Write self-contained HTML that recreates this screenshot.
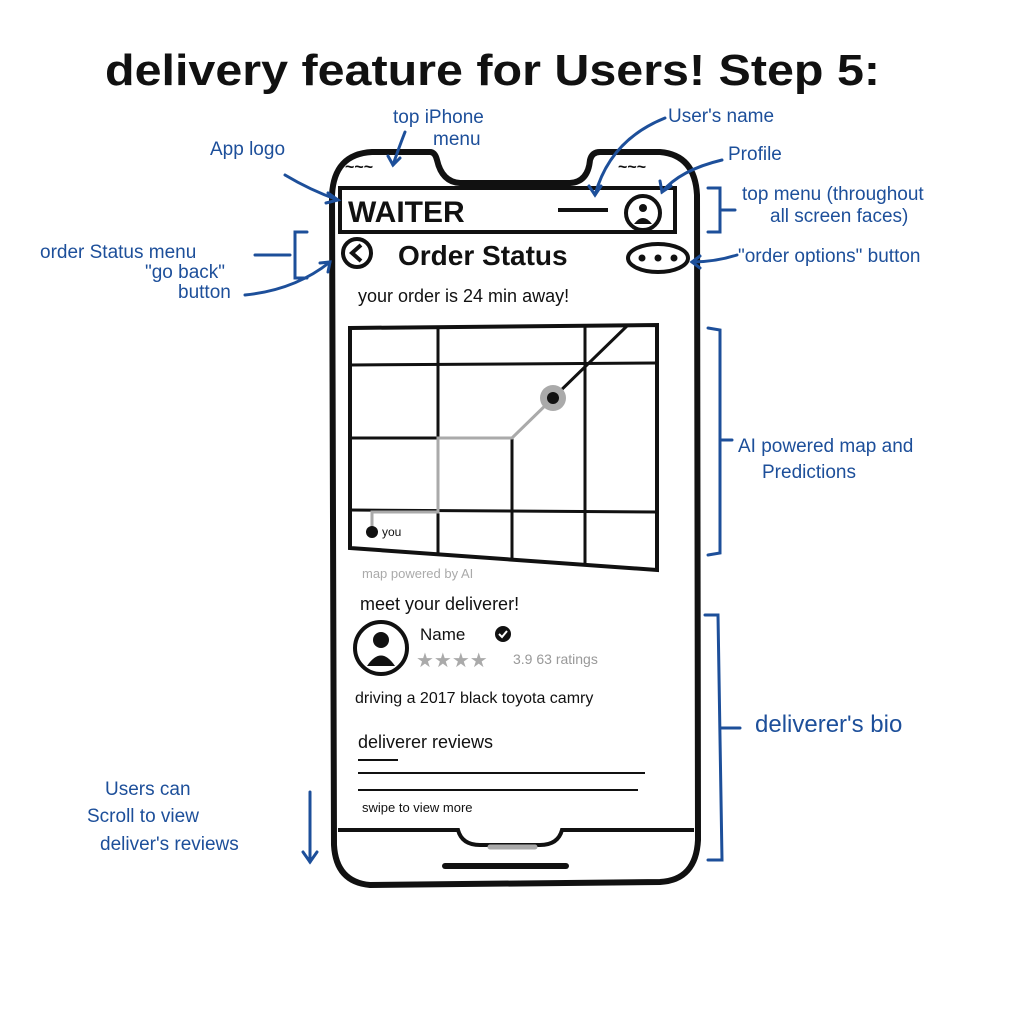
<!DOCTYPE html>
<html><head><meta charset="utf-8"><style>
html,body{margin:0;padding:0;background:#fff;width:1024px;height:1024px;overflow:hidden}
svg{display:block}
.b{font-family:"Liberation Sans",sans-serif;fill:#1d4f9a}
.k{font-family:"Liberation Sans",sans-serif;fill:#111}
</style></head><body>
<svg width="1024" height="1024" viewBox="0 0 1024 1024" xmlns="http://www.w3.org/2000/svg">
<rect width="1024" height="1024" fill="#fff"/>
<!-- title -->
<text x="105" y="85" class="k" font-size="44" font-weight="bold" textLength="775" lengthAdjust="spacingAndGlyphs">delivery feature for Users!  Step 5:</text>

<!-- phone -->
<path d="M372 152 L430 152 Q435 152 437 160 Q442 182 460 183 L570 183 Q588 182 590 160 Q592 152 600 152 L660 152 Q695 155 697 195 L698 840 Q696 880 660 882 L370 885 Q336 882 334 845 L332 195 Q334 154 372 152 Z" fill="none" stroke="#111" stroke-width="6"/>
<path d="M338 830 L458 830 Q462 845 480 845 L540 845 Q558 845 562 830 L694 830" fill="none" stroke="#111" stroke-width="4"/>
<line x1="445" y1="866" x2="566" y2="866" stroke="#111" stroke-width="6" stroke-linecap="round"/>
<line x1="490" y1="847" x2="535" y2="847" stroke="#aaa" stroke-width="5" stroke-linecap="round"/>
<text x="345" y="172" class="k" font-size="16" font-weight="bold">~~~</text>
<text x="618" y="172" class="k" font-size="16" font-weight="bold">~~~</text>

<!-- header -->
<rect x="340" y="188" width="335" height="44" fill="none" stroke="#111" stroke-width="4"/>
<text x="348" y="222" class="k" font-size="30" font-weight="bold">WAITER</text>
<line x1="558" y1="210" x2="608" y2="210" stroke="#111" stroke-width="4"/>
<circle cx="643" cy="213" r="17" fill="none" stroke="#111" stroke-width="4"/>
<circle cx="643" cy="208" r="4" fill="#111"/>
<path d="M634 224 Q643 212 652 224 Z" fill="#111"/>

<circle cx="357" cy="253" r="14" fill="none" stroke="#111" stroke-width="4"/>
<path d="M361 245 L352 253 L361 261" fill="none" stroke="#111" stroke-width="4"/>
<text x="398" y="265" class="k" font-size="28" font-weight="bold">Order Status</text>
<ellipse cx="658" cy="258" rx="30" ry="14" fill="none" stroke="#111" stroke-width="4"/>
<circle cx="642" cy="258" r="3.5" fill="#111"/><circle cx="658" cy="258" r="3.5" fill="#111"/><circle cx="674" cy="258" r="3.5" fill="#111"/>

<text x="358" y="302" class="k" font-size="18">your order is 24 min away!</text>

<!-- map -->
<path d="M350 328 L657 325 L657 570 L350 548 Z" fill="none" stroke="#111" stroke-width="4"/>
<g stroke="#111" stroke-width="3">
<line x1="438" y1="327" x2="438" y2="553"/>
<line x1="512" y1="438" x2="512" y2="560"/>
<line x1="585" y1="325" x2="585" y2="565"/>
<line x1="350" y1="365" x2="657" y2="363"/>
<line x1="350" y1="438" x2="438" y2="438"/>
<line x1="350" y1="510" x2="657" y2="512"/>
</g>
<path d="M372 530 L372 512 L438 512 L438 438 L512 438 L553 398" fill="none" stroke="#aaa" stroke-width="3"/>
<line x1="553" y1="398" x2="628" y2="325" stroke="#111" stroke-width="3"/>
<circle cx="553" cy="398" r="13" fill="#aaa"/>
<circle cx="553" cy="398" r="6" fill="#111"/>
<circle cx="372" cy="532" r="6" fill="#111"/>
<text x="382" y="536" class="k" font-size="12">you</text>
<text x="362" y="578" font-family="Liberation Sans,sans-serif" fill="#aaa" font-size="13">map powered by AI</text>

<text x="360" y="610" class="k" font-size="18">meet your deliverer!</text>
<circle cx="381" cy="648" r="26" fill="none" stroke="#111" stroke-width="4"/>
<circle cx="381" cy="640" r="8" fill="#111"/>
<path d="M367 666 Q381 645 395 666 Z" fill="#111"/>
<text x="420" y="640" class="k" font-size="17">Name</text>
<circle cx="503" cy="634" r="8" fill="#111"/>
<path d="M499 634 L502 637 L507 631" stroke="#fff" stroke-width="2" fill="none"/>
<text x="416" y="667" font-family="DejaVu Sans,sans-serif" fill="#aaa" font-size="20">★★★★</text>
<text x="513" y="664" font-family="Liberation Sans,sans-serif" fill="#999" font-size="14">3.9 63 ratings</text>
<text x="355" y="703" class="k" font-size="16">driving a 2017 black toyota camry</text>
<text x="358" y="748" class="k" font-size="18">deliverer reviews</text>
<g stroke="#111" stroke-width="2">
<line x1="358" y1="760" x2="398" y2="760"/>
<line x1="358" y1="773" x2="645" y2="773"/>
<line x1="358" y1="790" x2="638" y2="790"/>
</g>
<text x="362" y="812" class="k" font-size="13">swipe to view more</text>

<!-- annotations -->
<g class="b" font-size="19">
<text x="210" y="155">App logo</text>
<text x="393" y="123">top iPhone</text>
<text x="433" y="145">menu</text>
<text x="668" y="122">User's name</text>
<text x="728" y="160">Profile</text>
<text x="742" y="200">top menu (throughout</text>
<text x="770" y="222">all screen faces)</text>
<text x="40" y="258">order Status menu</text>
<text x="145" y="278">"go back"</text>
<text x="178" y="298">button</text>
<text x="738" y="262">"order options" button</text>
<text x="738" y="452">AI powered map and</text>
<text x="762" y="478">Predictions</text>
<text x="755" y="732" font-size="24">deliverer's bio</text>
<text x="105" y="795">Users can</text>
<text x="87" y="822">Scroll to view</text>
<text x="100" y="850">deliver's reviews</text>
</g>
<g fill="none" stroke="#1d4f9a" stroke-width="3" stroke-linecap="round">
<path d="M285 175 Q310 190 338 200"/><path d="M328 193 L338 200 L326 203"/>
<path d="M405 132 Q398 150 393 165"/><path d="M388 156 L393 165 L400 158"/>
<path d="M665 118 Q610 140 595 195"/><path d="M589 186 L595 195 L601 186"/>
<path d="M722 160 Q680 170 662 192"/><path d="M660 181 L662 192 L671 186"/>
<path d="M245 295 Q295 290 330 262"/><path d="M320 263 L330 262 L328 272"/>
<path d="M737 255 Q715 262 692 262"/><path d="M700 256 L692 262 L700 268"/>
<path d="M255 255 L290 255"/>
<path d="M708 188 L720 188 L720 232 L708 232"/><path d="M720 210 L735 210"/>
<path d="M307 232 L295 232 L295 278 L307 278"/>
<path d="M708 328 L720 330 L720 553 L708 555"/><path d="M720 440 L732 440"/>
<path d="M705 615 L718 615 L722 860 L708 860"/><path d="M720 728 L740 728"/>
<path d="M310 792 L310 862"/><path d="M303 852 L310 862 L317 852"/>
</g>
</svg>
</body></html>
